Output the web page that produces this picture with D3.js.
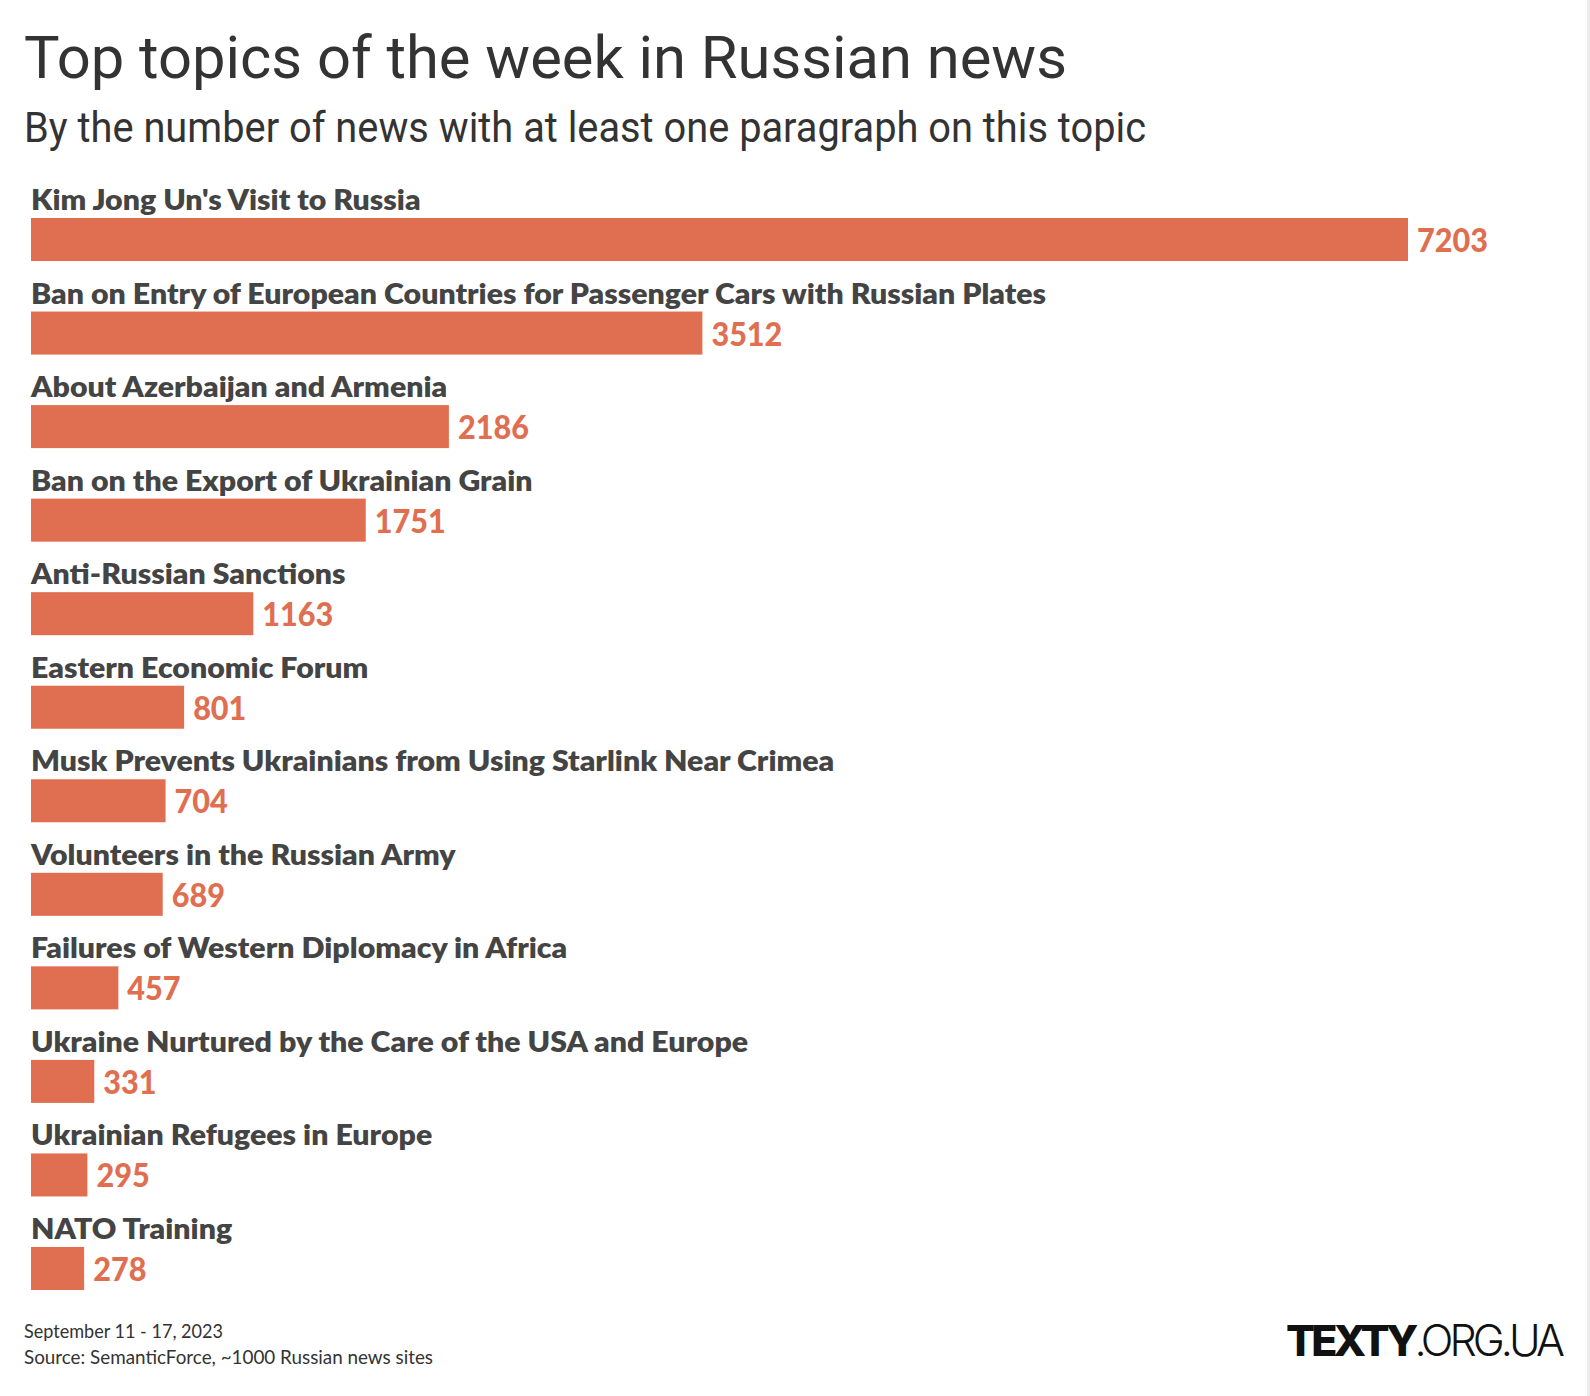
<!DOCTYPE html>
<html>
<head>
<meta charset="utf-8">
<script src="https://cdn.jsdelivr.net/npm/d3@7"></script>
<style>
  html, body { margin: 0; padding: 0; background: #fff; }
  svg { display: block; }
</style>
</head>
<body>
<svg id="chart"></svg>
<script>
// data
const topics = [
  "Kim Jong Un's Visit to Russia",
  "Ban on Entry of European Countries for Passenger Cars with Russian Plates",
  "About Azerbaijan and Armenia",
  "Ban on the Export of Ukrainian Grain",
  "Anti-Russian Sanctions",
  "Eastern Economic Forum",
  "Musk Prevents Ukrainians from Using Starlink Near Crimea",
  "Volunteers in the Russian Army",
  "Failures of Western Diplomacy in Africa",
  "Ukraine Nurtured by the Care of the USA and Europe",
  "Ukrainian Refugees in Europe",
  "NATO Training"
];
const counts = [7203, 3512, 2186, 1751, 1163, 801, 704, 689, 457, 331, 295, 278];

const title = "Top topics of the week in Russian news";
const subtitle = "By the number of news with at least one paragraph on this topic";
const notes = ["September 11 - 17, 2023", "Source: SemanticForce, ~1000 Russian news sites"];

const width = 1590, height = 1396;
const barColor = "#e06f51";
const labelFont = "Lato, 'Open Sans', sans-serif";

const svg = d3.select("#chart")
  .attr("width", width)
  .attr("height", height);

svg.append("rect").attr("width", width).attr("height", height).attr("fill", "#fff");
svg.append("rect").attr("x", 1587).attr("y", 0).attr("width", 3).attr("height", height).attr("fill", "#ececec");

// squeeze / stretch a text node to a given width
function fitTo(sel, w) {
  sel.attr("textLength", w).attr("lengthAdjust", "spacingAndGlyphs");
}

svg.append("text")
  .attr("x", 24).attr("y", 78)
  .attr("fill", "#333")
  .style("font-family", "Roboto, sans-serif")
  .style("font-weight", 400)
  .style("font-size", "59px")
  .text(title)
  .call(fitTo, 1043);

svg.append("text")
  .attr("x", 24).attr("y", 142)
  .attr("fill", "#333")
  .style("font-family", "Roboto, sans-serif")
  .style("font-weight", 400)
  .style("font-size", "42px")
  .text(subtitle)
  .call(fitTo, 1122);

const x = d3.scaleLinear()
  .domain([0, 7203])
  .range([31, 1408]);

const y = d3.scaleBand()
  .domain(topics)
  .range([218, 1290])
  .paddingInner(0.54)
  .paddingOuter(0)
  .align(0);

const rows = svg.selectAll(".row")
  .data(topics.map((t, i) => ({ topic: t, value: counts[i] })))
  .enter()
  .append("g")
  .attr("class", "row");

rows.append("rect")
  .attr("x", x(0))
  .attr("y", d => y(d.topic))
  .attr("width", d => x(d.value) - x(0))
  .attr("height", y.bandwidth())
  .attr("fill", barColor);

const names = rows.append("text")
  .attr("x", x(0))
  .attr("y", d => y(d.topic) - 8)
  .attr("fill", "#444")
  .style("font-family", labelFont)
  .style("font-weight", 800)
  .style("font-size", "29px")
  .text(d => d.topic);

// scale all labels by the same factor so the longest one matches the picture
const longest = names.filter((d, i) => i === 1).node().getComputedTextLength();
const kName = 1015 / longest;
names.each(function () {
  d3.select(this).call(fitTo, this.getComputedTextLength() * kName);
});

const nums = rows.append("text")
  .attr("x", d => x(d.value) + 9)
  .attr("y", d => y(d.topic) + y.bandwidth() - 9)
  .attr("fill", barColor)
  .style("font-family", labelFont)
  .style("font-weight", 900)
  .style("font-size", "33px")
  .text(d => d.value);

const firstNum = nums.filter((d, i) => i === 0).node().getComputedTextLength();
const kNum = 71 / firstNum;
nums.each(function () {
  d3.select(this).call(fitTo, this.getComputedTextLength() * kNum);
});

// footer
const noteWidths = [199, 409];
notes.forEach((n, i) => {
  svg.append("text")
    .attr("x", 24).attr("y", 1338 + i * 26)
    .attr("fill", "#333")
    .style("font-family", labelFont)
    .style("font-size", "19px")
    .text(n)
    .call(fitTo, noteWidths[i]);
});

// logo: one text, bold + light parts
const logo = svg.append("text")
  .attr("x", 1286).attr("y", 1356)
  .attr("fill", "#111")
  .style("font-family", "Inter, sans-serif")
  .style("font-size", "43px");
logo.append("tspan").style("font-weight", 800).text("TEXTY");
logo.append("tspan").style("font-weight", 300).text(".ORG.UA");
const logoW = logo.node().getComputedTextLength();
logo.style("letter-spacing", ((275 - logoW) / 12) + "px");
</script>
</body>
</html>
